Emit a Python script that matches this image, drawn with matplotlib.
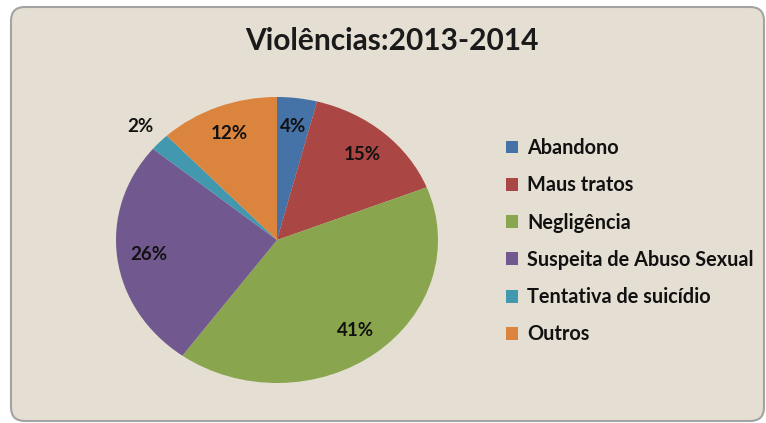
import matplotlib
matplotlib.use("Agg")
import matplotlib.pyplot as plt
from matplotlib.patches import FancyBboxPatch
import numpy as np

categories = ["Abandono", "Maus tratos", "Negligência", "Suspeita de Abuso Sexual",
              "Tentativa de suicídio", "Outros"]
values = [4, 15, 41, 26, 2, 12]
colors = ["#4572A7", "#AA4643", "#89A54E", "#71588F", "#4198AF", "#DB843D"]
title = "Violências:2013-2014"

FONT = "Lato"
W, H = 766, 423
fig = plt.figure(figsize=(W / 100, H / 100), dpi=100)
fig.patch.set_facecolor("white")

# rounded background panel
x0, y0, x1, y1 = 11, 7, 764, 421  # pixel box (top-left origin)
bg = FancyBboxPatch((x0 / W, (H - y1) / H), (x1 - x0) / W, (y1 - y0) / H,
                    boxstyle="round,pad=0,rounding_size=0.018",
                    transform=fig.transFigure, facecolor="#E5DED2",
                    edgecolor="#A3A3A3", linewidth=1.5, zorder=-10,
                    mutation_aspect=W / H)
fig.patches.append(bg)

fig.text(392 / W, 1 - 41 / H, title, ha="center", va="center",
         fontsize=21.5, fontweight="bold", family=FONT, color="#1a1a1a")

# pie axes (elliptical pie)
cx, cy, rx, ry = 277, 240, 161, 143
ax = fig.add_axes([(cx - rx) / W, (H - cy - ry) / H, 2 * rx / W, 2 * ry / H])
ax.set_zorder(5)
wedges, _ = ax.pie(values, colors=colors, startangle=90, counterclock=False,
                   radius=1.0, wedgeprops=dict(linewidth=0))
ax.set_aspect("auto")
ax.set_xlim(-1, 1)
ax.set_ylim(-1, 1)
ax.axis("off")

for w, v in zip(wedges, values):
    mid = np.deg2rad((w.theta1 + w.theta2) / 2)
    r = 1.16 if v < 3 else 0.8
    ax.text(r * np.cos(mid), r * np.sin(mid), f"{v}%", ha="center", va="center",
            fontsize=13.5, fontweight="bold", family=FONT, color="#111111")

leg = fig.legend(wedges, categories, loc="upper left",
                 bbox_to_anchor=(498 / W, 1 - 130 / H), frameon=False,
                 prop=dict(family=FONT, weight="bold", size=14.3),
                 handlelength=0.62, handleheight=0.62, handletextpad=0.45,
                 labelspacing=0.87, borderaxespad=0)
leg.set_zorder(6)
for t in leg.get_texts():
    t.set_color("#111111")

fig.savefig("out.png", dpi=100)
